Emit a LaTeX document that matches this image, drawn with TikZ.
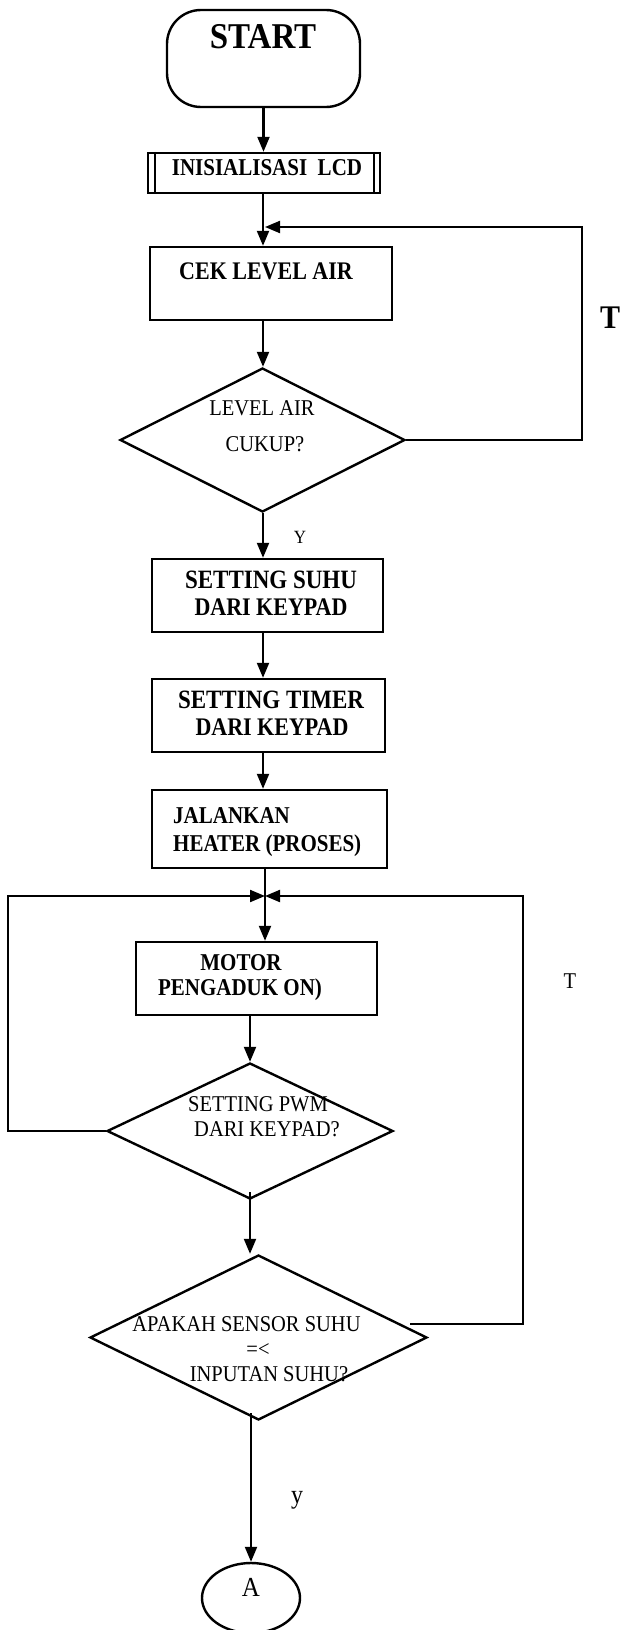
\documentclass[tikz,border=0pt]{standalone}
\usepackage{fontspec}
\usepackage{graphicx}
\setmainfont{Liberation Serif}
\usetikzlibrary{shapes.geometric,arrows.meta}
\newcommand\tallb[1]{\scalebox{1}[1.15]{#1}}
\newcommand\tallr[1]{\scalebox{1}[1.1]{#1}}
\begin{document}
\begin{tikzpicture}[x=1pt,y=-1pt,
  shapeline/.style={draw,line width=2.4pt,inner sep=0pt},
  procbox/.style={shapeline,rectangle,minimum height=73pt},
  decision/.style={shapeline,diamond},
  conn/.style={line width=2.1pt},
  arr/.style={conn,-{Triangle[length=15pt,width=12pt]}},
  btxt/.style={inner sep=0pt,text height=0.75em,text depth=0pt,font=\bfseries\fontsize{22}{26}\selectfont},
  rtxt/.style={inner sep=0pt,text height=0.72em,text depth=0pt,font=\fontsize{20.5}{24}\selectfont}
]
\useasboundingbox (0,0) rectangle (623,1630);

% START
\node[shapeline,rectangle,rounded corners=34pt,minimum width=193pt,minimum height=97pt] (start) at (263.5,58.5) {};
\node[btxt,font=\bfseries\fontsize{33}{38}\selectfont] (startT) at (263,45) {\tallr{START}};

% INISIALISASI LCD
\node[shapeline,rectangle,minimum width=232pt,minimum height=40pt] (lcd) at (264,173) {};
\draw[line width=1.6pt] ([xshift=8pt]lcd.north west) -- ([xshift=8pt]lcd.south west);
\draw[line width=1.6pt] ([xshift=-7pt]lcd.north east) -- ([xshift=-7pt]lcd.south east);
\node[btxt,font=\bfseries\fontsize{21}{24}\selectfont] (lcdT) at (267,172) {\tallb{INISIALISASI\ \ LCD}};

% CEK LEVEL AIR
\node[procbox,minimum width=242pt] (cek) at (271,283.5) {};
\node[btxt] (cekT) at (266,276) {\tallb{CEK LEVEL AIR}};

% decision 1
\node[decision,minimum width=285pt,minimum height=144pt] (d1) at (262.5,440) {};
\node[rtxt] (d1a) at (262,412) {\tallr{LEVEL AIR}};
\node[rtxt] (d1b) at (265,448) {\tallr{CUKUP?}};

% SETTING SUHU
\node[procbox,minimum width=231pt] (suhu) at (267.5,595.5) {};
\node[btxt,font=\bfseries\fontsize{23}{26}\selectfont] (suhuA) at (271,585) {\tallb{SETTING SUHU}};
\node[btxt] (suhuB) at (271,612) {\tallb{DARI KEYPAD}};

% SETTING TIMER
\node[procbox,minimum width=233pt] (timer) at (268.5,715.5) {};
\node[btxt,font=\bfseries\fontsize{23}{26}\selectfont] (timerA) at (271,705) {\tallb{SETTING TIMER}};
\node[btxt] (timerB) at (272,732) {\tallb{DARI KEYPAD}};

% JALANKAN HEATER
\node[procbox,minimum width=235pt,minimum height=78pt] (heater) at (269.5,829) {};
\node[btxt,font=\bfseries\fontsize{21}{24}\selectfont,anchor=west] (heaterA) at (173,820) {\tallb{JALANKAN}};
\node[btxt,font=\bfseries\fontsize{21}{24}\selectfont,anchor=west] (heaterB) at (173,848) {\tallb{HEATER (PROSES)}};

% MOTOR
\node[procbox,minimum width=241pt] (motor) at (256.5,978.5) {};
\node[btxt,font=\bfseries\fontsize{21}{24}\selectfont] (motorA) at (241,967) {\tallb{MOTOR}};
\node[btxt,font=\bfseries\fontsize{21}{24}\selectfont] (motorB) at (240,992) {\tallb{PENGADUK ON)}};

% decision 2
\node[decision,minimum width=286pt,minimum height=136pt] (d2) at (250,1131) {};
\node[rtxt] (d2a) at (258,1108) {\tallr{SETTING PWM}};
\node[rtxt] (d2b) at (267,1133) {\tallr{DARI KEYPAD?}};

% decision 3
\node[decision,minimum width=337pt,minimum height=165pt] (d3) at (258.5,1337.5) {};
\node[rtxt] (d3a) at (246.5,1328) {\tallr{APAKAH SENSOR SUHU}};
\node[rtxt] (d3b) at (258,1353) {\tallr{=<}};
\node[rtxt] (d3c) at (269,1378) {\tallr{INPUTAN SUHU?}};

% connector A
\node[shapeline,ellipse,minimum width=98pt,minimum height=70pt] (A) at (251,1598) {};
\node[rtxt,font=\fontsize{25}{28}\selectfont] (AT) at (251,1593) {\tallr{A}};

% labels
\node[btxt,font=\bfseries\fontsize{30}{34}\selectfont] (T1) at (610,325) {\tallr{T}};
\node[rtxt] (T2) at (570,985) {\tallr{T}};
\node[rtxt,font=\fontsize{17}{20}\selectfont] (Y1) at (300,540) {\tallr{Y}};
\node[inner sep=0pt,font=\fontsize{24}{28}\selectfont] (y2) at (297,1500) {\tallr{y}};

% junction coordinates
\coordinate (j1) at (263,227);
\coordinate (j2) at (265,896);
\coordinate (r1) at (582,440);
\coordinate (r2) at (523,1324);
\coordinate (l2) at (8,1131);
\coordinate (d3out) at (410,1324);

% connectors
\draw[arr] (start.south) -- (start.south |- lcd.north);
\draw[arr] (lcd.south -| j1) -- (j1 |- cek.north);
\draw[arr] (cek.south -| j1) -- (j1 |- d1.north);
\draw[arr] (d1.east) -- (r1) -- (r1 |- j1) -- ([xshift=2pt]j1);
\draw[arr] (d1.south -| j1) -- (j1 |- suhu.north);
\draw[arr] (suhu.south -| j1) -- (j1 |- timer.north);
\draw[arr] (timer.south -| j1) -- (j1 |- heater.north);
\draw[conn] (heater.south -| j2) -- (j2);
\draw[arr] (j2) -- (j2 |- motor.north);
\draw[arr] (d2.west) -- (l2) -- (l2 |- j2) -- (j2);
\draw[arr] (motor.south -| d2.north) -- (d2.north);
\draw[arr] ([yshift=8pt]d2.south) -- (d2.south |- d3.north);
\draw[arr] (d3out) -- (r2) -- (r2 |- j2) -- (j2);
\draw[arr] ([yshift=8pt]d3.south -| A.north) -- (A.north);
\end{tikzpicture}
\end{document}
